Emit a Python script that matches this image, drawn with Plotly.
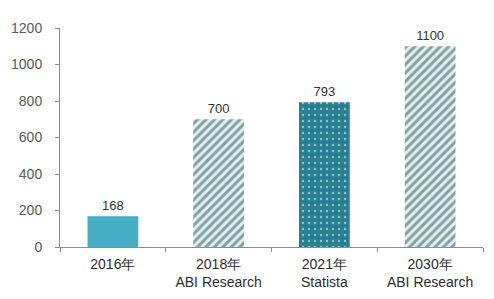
import plotly.graph_objects as go

categories = ["2016年", "2018年<br>ABI Research", "2021年<br>Statista", "2030年<br>ABI Research"]
values = [168, 700, 793, 1100]
y_ticks = [0, 200, 400, 600, 800, 1000, 1200]

shapes = ["", "/", ".", "/"]
fgcolors = ["#45AEC5", "#2F6570", "#FFFFFF", "#2F6570"]
bgcolors = ["#45AEC5", "#D6F4F4", "#2A8093", "#D6F4F4"]
sizes = [6, 6, 6, 6]
solidities = [0.3, 0.5, 0.12, 0.5]

fig = go.Figure()
fig.add_trace(go.Bar(
    x=categories,
    y=values,
    width=0.48,
    marker=dict(
        color=bgcolors,
        line=dict(width=0),
        pattern=dict(shape=shapes, fgcolor=fgcolors, bgcolor=bgcolors,
                     size=sizes, solidity=solidities, fillmode="overlay"),
    ),
    text=[str(v) for v in values],
    textposition="outside",
    textfont=dict(family="Arial, Liberation Sans", size=13, color="#333333"),
    cliponaxis=False,
))

fig.update_layout(
    width=494, height=299,
    margin=dict(l=60, r=11, t=28, b=52),
    paper_bgcolor="white", plot_bgcolor="white",
    showlegend=False,
    xaxis=dict(
        automargin=False,
        showline=True, linecolor="#8C8C8C", linewidth=1,
        ticks="outside", tickson="boundaries", ticklen=4, tickcolor="#8C8C8C",
        ticklabelstandoff=4,
        tickfont=dict(family="Arial, Liberation Sans", size=14, color="#2E2E2E"),
        showgrid=False,
    ),
    yaxis=dict(
        automargin=False,
        range=[0, 1200], tickvals=y_ticks,
        showline=True, linecolor="#8C8C8C", linewidth=1,
        ticks="outside", ticklen=4, tickcolor="#8C8C8C",
        ticklabelstandoff=10,
        tickfont=dict(family="Arial, Liberation Sans", size=14, color="#595959"),
        showgrid=False, zeroline=False,
    ),
)

fig.write_html("out.html")
